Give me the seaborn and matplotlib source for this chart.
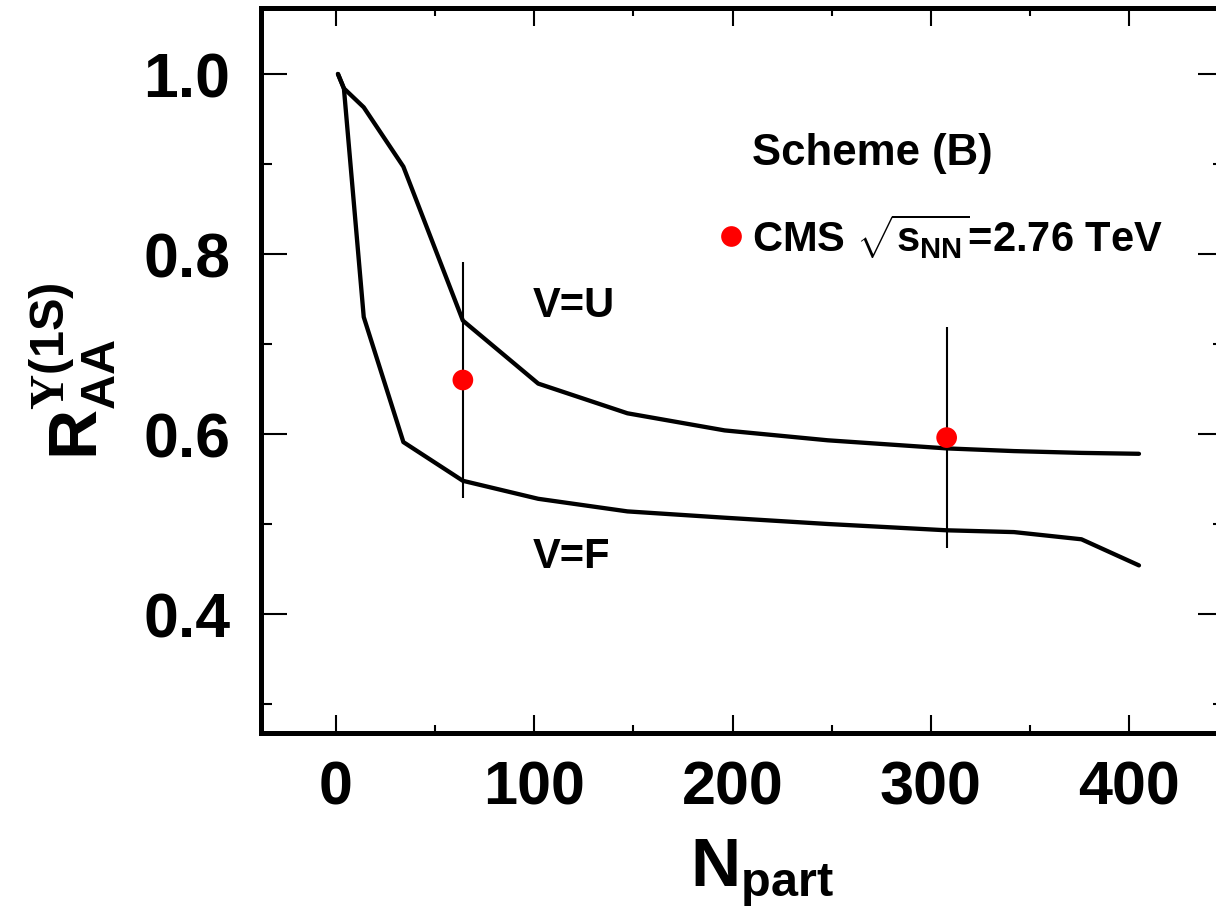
import matplotlib
matplotlib.use("Agg")
import matplotlib.pyplot as plt
from matplotlib.ticker import MultipleLocator, FormatStrFormatter
from matplotlib.lines import Line2D
import pandas as pd
import seaborn as sns

# Model curves: Upsilon(1S) suppression vs. number of participants
npart_model = [1, 4, 14, 34, 64, 102, 147, 196, 248, 308, 342, 376, 405]
raa_v_u = [1.000, 0.984, 0.963, 0.897, 0.726, 0.656, 0.623, 0.604, 0.593,
           0.584, 0.581, 0.579, 0.578]
raa_v_f = [1.000, 0.984, 0.730, 0.591, 0.548, 0.528, 0.514, 0.507, 0.500,
           0.493, 0.491, 0.483, 0.454]

# CMS measurement, sqrt(s_NN) = 2.76 TeV
npart_cms = [64, 308]
raa_cms = [0.660, 0.596]
err_cms = [0.131, 0.123]

model_labels = ["V=U", "V=F"]
scheme_label = "Scheme (B)"
cms_label = r"CMS $\sqrt{s_{NN}}$=2.76 TeV"

sns.set_theme(style="ticks")
plt.rcParams.update({
    "font.family": ["Liberation Sans", "DejaVu Sans"],
    "font.weight": "bold",
    "axes.labelweight": "bold",
    "text.color": "black",
    "axes.labelcolor": "black",
    "xtick.color": "black",
    "ytick.color": "black",
    "mathtext.fontset": "custom",
    "mathtext.rm": "Liberation Sans:bold",
    "mathtext.it": "Liberation Sans:bold",
    "mathtext.bf": "Liberation Sans:bold",
    "mathtext.sf": "Liberation Sans:bold",
    "mathtext.cal": "Liberation Serif",
    "axes.linewidth": 3.6,
    "axes.edgecolor": "black",
})

df = pd.DataFrame({
    "npart": npart_model * 2,
    "raa": raa_v_u + raa_v_f,
    "model": [model_labels[0]] * len(npart_model) + [model_labels[1]] * len(npart_model),
})

fig = plt.figure(figsize=(12.16, 9.2), dpi=100)
ax = fig.add_axes([0.2145, 0.2022, 0.7921, 0.7878])

sns.lineplot(data=df, x="npart", y="raa", hue="model", palette=["black", "black"],
             estimator=None, sort=False, linewidth=3.1, legend=False, ax=ax)

ax.errorbar(npart_cms, raa_cms, yerr=err_cms, fmt="none", ecolor="black",
            elinewidth=1.5, capsize=0, zorder=4)
sns.scatterplot(x=npart_cms, y=raa_cms, color="red", s=222, edgecolor="none",
                zorder=5, ax=ax, legend=False)

ax.set_xlim(-37.9, 447.9)
ax.set_ylim(0.2678, 1.0731)

ax.xaxis.set_major_locator(MultipleLocator(100))
ax.xaxis.set_minor_locator(MultipleLocator(50))
ax.yaxis.set_major_locator(MultipleLocator(0.2))
ax.yaxis.set_minor_locator(MultipleLocator(0.1))
ax.yaxis.set_major_formatter(FormatStrFormatter("%.1f"))

ax.tick_params(axis="both", which="both", direction="in", top=True, right=True,
               color="black", labelcolor="black", width=1.5)
ax.tick_params(axis="x", which="major", length=13, pad=19, labelsize=44)
ax.tick_params(axis="x", which="minor", length=5.8)
ax.tick_params(axis="y", which="major", length=18.7, pad=22, labelsize=45)
ax.tick_params(axis="y", which="minor", length=8)

ax.set_xlabel(r"N$_{part}$", fontsize=50, fontweight="bold")
ax.xaxis.set_label_coords(0.52, -0.142)
ax.xaxis.label.set_verticalalignment("top")
ax.set_ylabel(r"R$_{AA}^{\mathcal{\Upsilon}(1S)}$", fontsize=50, fontweight="bold")
ax.yaxis.set_label_coords(-0.148, 0.5)

ax.text(210, 0.900, scheme_label, fontsize=31.5, va="baseline")
ax.text(99.4, 0.731, model_labels[0], fontsize=30, va="baseline")
ax.text(99.4, 0.452, model_labels[1], fontsize=30, va="baseline")

cms_handle = Line2D([], [], marker="o", color="red", linestyle="none",
                    markersize=14.9, markeredgewidth=0)
leg = ax.legend(handles=[cms_handle], labels=[cms_label], loc="center left",
                bbox_to_anchor=(0.4775, 0.686), frameon=False, fontsize=30,
                handlelength=0.5, handletextpad=0.25, borderpad=0, borderaxespad=0)
for t in leg.get_texts():
    t.set_color("black")

fig.savefig("out.png", dpi=100)
